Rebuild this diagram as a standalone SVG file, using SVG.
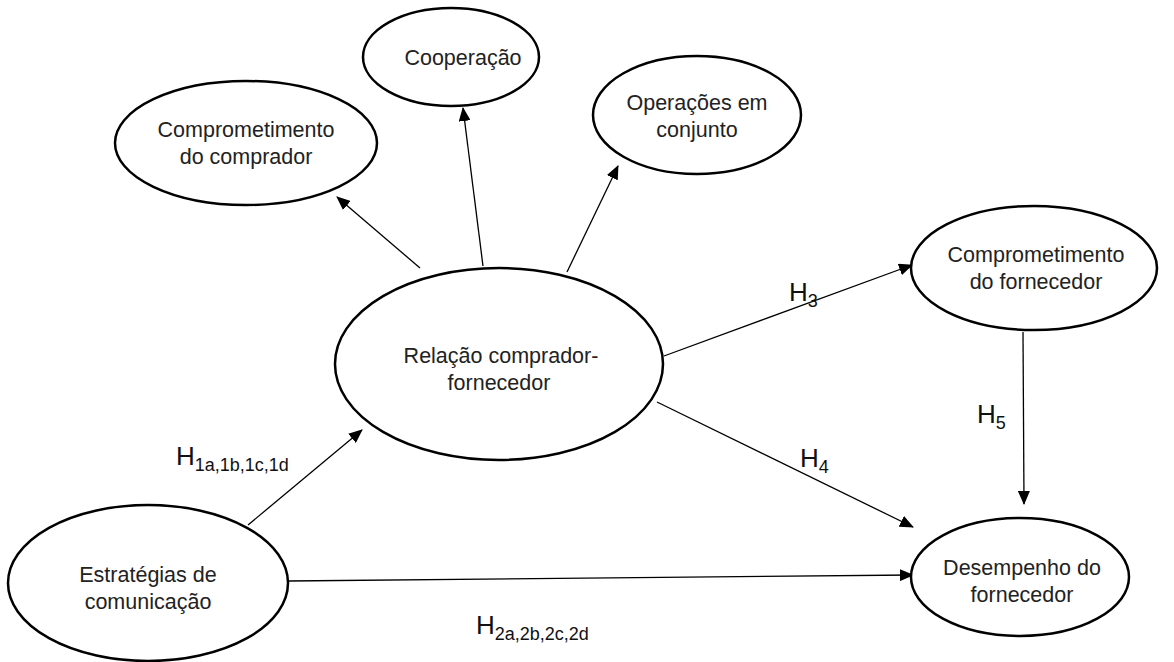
<svg xmlns="http://www.w3.org/2000/svg" width="1174" height="662" viewBox="0 0 1174 662">
<style>
.n{fill:#fff;stroke:#000;stroke-width:2.5}
.t{font-family:"Liberation Sans",Arial,sans-serif;font-size:21.5px;fill:#222;text-anchor:middle}
.h{font-family:"Liberation Sans",Arial,sans-serif;font-size:26px;fill:#111}
.s{font-size:18px}
.c{stroke:#000;stroke-width:1.3;fill:none;marker-end:url(#a)}
</style>
<defs>
<marker id="a" viewBox="0 0 14 12" refX="13" refY="6" markerWidth="14" markerHeight="12" markerUnits="userSpaceOnUse" orient="auto">
<path d="M0,0 L14,6 L0,12 Z" fill="#000"/>
</marker>
</defs>
<rect width="1174" height="662" fill="#fff"/>
<g id="connectors">
<line class="c" x1="420" y1="268" x2="337" y2="197"/>
<line class="c" x1="483" y1="266" x2="463" y2="108"/>
<line class="c" x1="567" y1="272" x2="618" y2="166"/>
<line class="c" x1="664" y1="356" x2="912" y2="265"/>
<line class="c" x1="657" y1="402" x2="913" y2="527"/>
<line class="c" x1="1023" y1="332" x2="1024" y2="504"/>
<line class="c" x1="248" y1="525" x2="362" y2="430"/>
<line class="c" x1="288" y1="581" x2="913" y2="575"/>
</g>
<g id="n-comp-comprador">
<ellipse class="n" cx="246" cy="143" rx="131" ry="62"/>
<text class="t" x="246" y="137">Comprometimento</text>
<text class="t" x="246" y="164">do comprador</text>
</g>
<g id="n-cooperacao">
<ellipse class="n" cx="451" cy="57" rx="88" ry="49"/>
<text class="t" x="463" y="65">Cooperação</text>
</g>
<g id="n-operacoes">
<ellipse class="n" cx="697" cy="115" rx="104" ry="59"/>
<text class="t" x="697" y="110">Operações em</text>
<text class="t" x="697" y="137">conjunto</text>
</g>
<g id="n-relacao">
<ellipse class="n" cx="499" cy="364" rx="164" ry="96"/>
<text class="t" x="501" y="363">Relação comprador-</text>
<text class="t" x="499" y="390">fornecedor</text>
</g>
<g id="n-comp-fornecedor">
<ellipse class="n" cx="1034" cy="268" rx="123" ry="62"/>
<text class="t" x="1036" y="262">Comprometimento</text>
<text class="t" x="1036" y="289">do fornecedor</text>
</g>
<g id="n-desempenho">
<ellipse class="n" cx="1020" cy="577" rx="109" ry="59"/>
<text class="t" x="1022" y="575">Desempenho do</text>
<text class="t" x="1022" y="602">fornecedor</text>
</g>
<g id="n-estrategias">
<ellipse class="n" cx="148" cy="583" rx="140" ry="78"/>
<text class="t" x="148" y="582">Estratégias de</text>
<text class="t" x="148" y="609">comunicação</text>
</g>
<g id="labels">
<text class="h" x="176" y="465">H<tspan class="s" dy="6">1a,1b,1c,1d</tspan></text>
<text class="h" x="476" y="634">H<tspan class="s" dy="6">2a,2b,2c,2d</tspan></text>
<text class="h" x="789" y="301">H<tspan class="s" dy="6">3</tspan></text>
<text class="h" x="800" y="467">H<tspan class="s" dy="6">4</tspan></text>
<text class="h" x="977" y="423">H<tspan class="s" dy="6">5</tspan></text>
</g>
</svg>
